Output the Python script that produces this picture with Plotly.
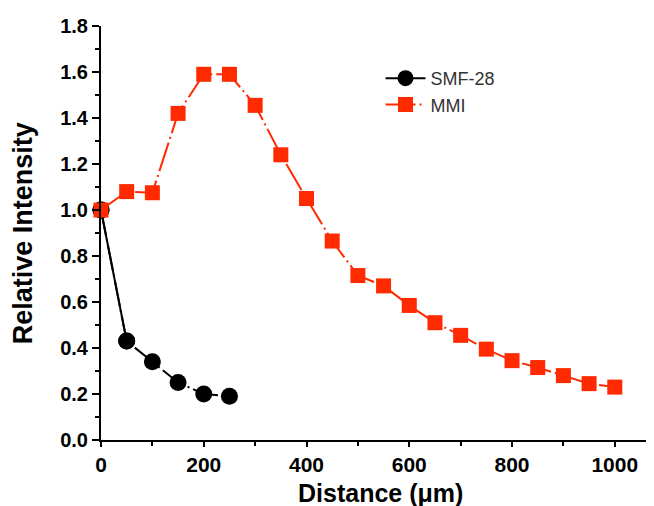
import plotly.graph_objects as go

smf_x = [0, 50, 100, 150, 200, 250]
smf_y = [1.0, 0.43, 0.34, 0.25, 0.20, 0.19]

mmi_x = [0, 50, 100, 150, 200, 250, 300, 350, 400, 450, 500, 550, 600, 650, 700, 750, 800, 850, 900, 950, 1000]
mmi_y = [1.0, 1.08, 1.075, 1.42, 1.59, 1.59, 1.455, 1.24, 1.05, 0.865, 0.715, 0.67, 0.585, 0.51, 0.455, 0.395, 0.345, 0.315, 0.28, 0.245, 0.23]

x_ticks = [0, 200, 400, 600, 800, 1000]
y_ticks = [0.0, 0.2, 0.4, 0.6, 0.8, 1.0, 1.2, 1.4, 1.6, 1.8]

red = "#ff2a00"
fam = "Liberation Sans, Arial, sans-serif"

fig = go.Figure()
fig.add_trace(go.Scatter(
    x=smf_x, y=smf_y, name="SMF-28", mode="lines+markers", showlegend=False,
    line=dict(color="black", width=2, dash="26px,4px,2px,4px"),
    marker=dict(symbol="circle", size=17, color="black"),
    cliponaxis=False,
))
# first SMF-28 segment drawn solid, as in the reference (also carries the legend entry)
fig.add_trace(go.Scatter(
    x=smf_x[:2], y=smf_y[:2], name="SMF-28", mode="lines+markers",
    line=dict(color="black", width=2),
    marker=dict(symbol="circle", size=17, color="black"),
    cliponaxis=False,
))
fig.add_trace(go.Scatter(
    x=mmi_x, y=mmi_y, name="MMI", mode="lines+markers",
    line=dict(color=red, width=2, dash="30px,4px,2px,4px"),
    marker=dict(symbol="square", size=15, color=red),
    cliponaxis=False,
))

fig.update_layout(
    width=654, height=506,
    margin=dict(l=93, r=2, t=18, b=74),
    paper_bgcolor="white", plot_bgcolor="white",
    font=dict(family=fam, color="black"),
    showlegend=True,
    legend=dict(
        x=0.50, y=0.918, xanchor="left", yanchor="top",
        bgcolor="rgba(0,0,0,0)", font=dict(size=18, color="#333333"),
        itemwidth=40, tracegroupgap=0,
    ),
    xaxis=dict(
        range=[0, 1088], tickvals=x_ticks,
        ticktext=[f"<b>{v}</b>" for v in x_ticks],
        ticks="outside", ticklen=5, tickwidth=2, tickcolor="black",
        showline=True, linecolor="black", linewidth=2,
        showgrid=False, zeroline=False,
        tickfont=dict(family=fam, size=21, color="black"),
        minor=dict(dtick=100, ticks="outside", ticklen=4, tickwidth=1.5, tickcolor="black", showgrid=False),
    ),
    yaxis=dict(
        range=[0, 1.8], tickvals=y_ticks,
        ticktext=[f"<b>{v:.1f}</b>" for v in y_ticks],
        ticks="outside", ticklen=7, tickwidth=2, tickcolor="black",
        showline=True, linecolor="black", linewidth=2,
        showgrid=False, zeroline=False,
        tickfont=dict(family=fam, size=20, color="black"),
        minor=dict(dtick=0.1, ticks="outside", ticklen=4, tickwidth=1.5, tickcolor="black", showgrid=False),
    ),
    annotations=[
        dict(text="<b>Distance (μm)</b>", xref="paper", yref="paper",
             x=0.5, y=-0.128, xanchor="center", yanchor="middle", showarrow=False,
             font=dict(size=25, family=fam, color="black")),
        dict(text="<b>Relative Intensity</b>", xref="paper", yref="paper",
             x=-0.139, y=0.5, xanchor="center", yanchor="middle", showarrow=False,
             textangle=-90, font=dict(size=27, family=fam, color="black")),
    ],
)

fig.write_html("out.html")
